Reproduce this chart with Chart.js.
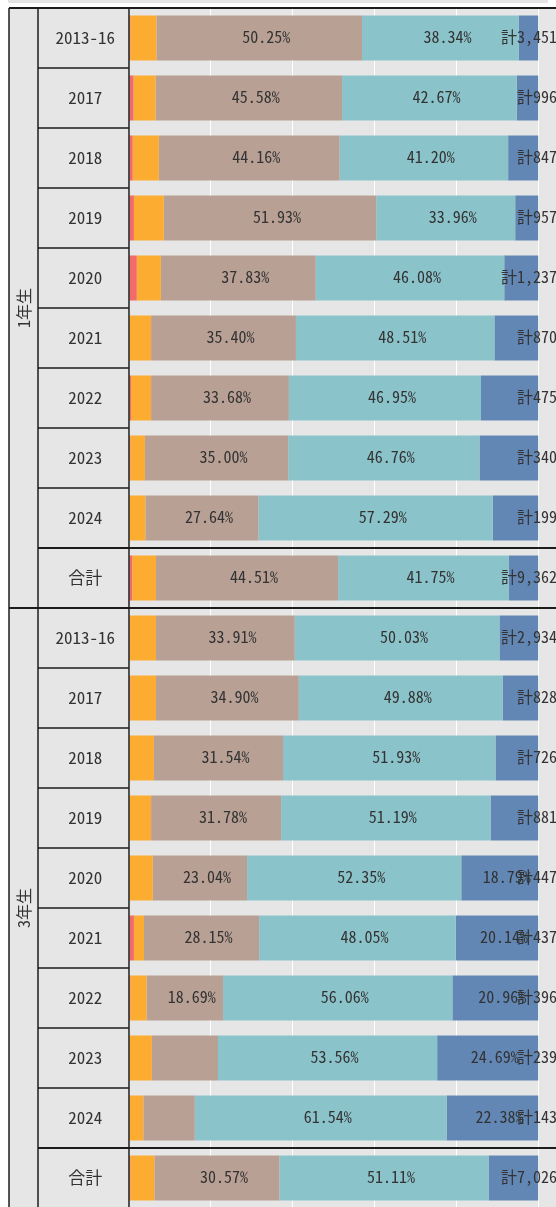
<!DOCTYPE html>
<html lang="ja">
<head>
<meta charset="utf-8">
<title>学年別 構成比</title>
<script src="https://cdn.jsdelivr.net/npm/chart.js@4.4.1/dist/chart.umd.min.js"></script>
<style>
  html, body { margin: 0; padding: 0; background: #ffffff; overflow: hidden; }
  #wrap { position: relative; width: 620px; height: 1210px; }
</style>
</head>
<body>
<div id="wrap"><canvas id="ratioChart" width="620" height="1210"></canvas></div>
<script>
// ==========================================
// 1. DATA
// ==========================================
const groups = ['1年生', '3年生'];
const years = ['2013-16', '2017', '2018', '2019', '2020', '2021', '2022', '2023', '2024', '合計'];
const rowLabels = [...years, ...years];

// share of each category per row, in percent (1年生 rows first, then 3年生)
const redShare = [0.3, 1.1, 0.9, 1.2, 1.9, 0, 0.5, 0.3, 0, 0.8,
                  0.2, 0.3, 0, 0, 0, 1.2, 0.3, 0, 0, 0.3];
const orangeShare = [6.4, 5.4, 6.4, 7.3, 5.9, 5.4, 4.9, 3.6, 4.0, 5.8,
                     6.4, 6.3, 6.1, 5.4, 5.82, 2.46, 3.99, 5.6, 3.5, 5.9];
const taupeShare = [50.25, 45.58, 44.16, 51.93, 37.83, 35.40, 33.68, 35.00, 27.64, 44.51,
                    33.91, 34.90, 31.54, 31.78, 23.04, 28.15, 18.69, 16.15, 12.58, 30.57];
const tealShare = [38.34, 42.67, 41.20, 33.96, 46.08, 48.51, 46.95, 46.76, 57.29, 41.75,
                   50.03, 49.88, 51.93, 51.19, 52.35, 48.05, 56.06, 53.56, 61.54, 51.11];
const blueShare = [4.71, 5.25, 7.34, 5.61, 8.29, 10.69, 13.97, 14.34, 11.07, 7.14,
                   9.46, 8.62, 10.43, 11.63, 18.79, 20.14, 20.96, 24.69, 22.38, 12.12];

// number of answers per row
const totals = [3451, 996, 847, 957, 1237, 870, 475, 340, 199, 9362,
                2934, 828, 726, 881, 447, 437, 396, 239, 143, 7026];

const xTicks = [0, 20, 40, 60, 80, 100, 120];

// ==========================================
// 2. LOOK & FEEL
// ==========================================
const COLORS = ['#f26b6b', '#fdac32', '#b8a095', '#8bc3cb', '#6287b4'];
const PANEL_BG = '#e6e6e6';
const LINE_COLOR = '#1c1c1c';
const TEXT_COLOR = '#333333';
const MONO = '"Noto Sans Mono CJK JP", "DejaVu Sans Mono", monospace';

const FRAME_LEFT = 9;       // outer left border of the table
const GROUP_COL_RIGHT = 38; // border between group column and year column
const LABEL_MIN = 17;       // segments smaller than this get no % text
const TOTAL_POS = 104.6;    // where the "計" texts end, in axis units

// ==========================================
// 3. TABLE FRAME + TEXT PLUGIN
// ==========================================
const tablePlugin = {
    id: 'tableFrame',
    beforeDraw(chart) {
        const { ctx, chartArea } = chart;
        ctx.save();
        ctx.fillStyle = '#e4e4e4';
        ctx.fillRect(8, 0, 540, 3);
        ctx.fillStyle = PANEL_BG;
        ctx.fillRect(FRAME_LEFT, chartArea.top, chart.width - FRAME_LEFT, chartArea.bottom - chartArea.top);
        ctx.restore();
    },
    afterDraw(chart) {
        const { ctx, chartArea, scales: { x, y } } = chart;
        const half = (y.getPixelForValue(1) - y.getPixelForValue(0)) / 2;
        const edge = i => y.getPixelForValue(i) - half; // top edge of row i

        const line = (x1, y1, x2, y2, w) => {
            ctx.lineWidth = w;
            ctx.beginPath();
            ctx.moveTo(x1, y1);
            ctx.lineTo(x2, y2);
            ctx.stroke();
        };

        ctx.save();
        ctx.strokeStyle = LINE_COLOR;

        // row borders inside the year column
        for (let i = 0; i <= rowLabels.length; i++) {
            line(GROUP_COL_RIGHT, edge(i), chartArea.left, edge(i), 1.5);
        }
        // line above each "合計" row runs through the plot too
        rowLabels.forEach((lbl, i) => {
            if (lbl === '合計') line(GROUP_COL_RIGHT, edge(i), chart.width, edge(i), 2);
        });
        // group borders, full width
        for (let g = 0; g <= groups.length; g++) {
            const yy = edge(g * years.length);
            line(FRAME_LEFT, yy, chart.width, yy, 2);
        }
        // vertical borders
        line(FRAME_LEFT, chartArea.top, FRAME_LEFT, chartArea.bottom, 1.5);
        line(GROUP_COL_RIGHT, chartArea.top, GROUP_COL_RIGHT, chartArea.bottom, 1.5);
        line(chartArea.left, chartArea.top, chartArea.left, chartArea.bottom, 1.5);

        // group names, rotated
        ctx.fillStyle = TEXT_COLOR;
        ctx.font = '16px ' + MONO;
        ctx.textAlign = 'center';
        ctx.textBaseline = 'middle';
        groups.forEach((name, g) => {
            const cy = (edge(g * years.length) + edge((g + 1) * years.length)) / 2;
            ctx.save();
            ctx.translate((FRAME_LEFT + GROUP_COL_RIGHT) / 2, cy);
            ctx.rotate(-Math.PI / 2);
            ctx.fillText(name, 0, 0);
            ctx.restore();
        });

        // percent texts on the wider segments
        ctx.font = '16px ' + MONO;
        [2, 3, 4].forEach(ds => {
            const meta = chart.getDatasetMeta(ds);
            const values = chart.data.datasets[ds].data;
            meta.data.forEach((bar, i) => {
                if (values[i] < LABEL_MIN) return;
                ctx.fillText(values[i].toFixed(2) + '%', (bar.x + bar.base) / 2 + 7, bar.y - 1);
            });
        });

        // totals at the right end
        ctx.textAlign = 'right';
        const tx = x.getPixelForValue(TOTAL_POS);
        chart.getDatasetMeta(0).data.forEach((bar, i) => {
            ctx.fillText('計' + totals[i].toLocaleString('en-US'), tx, bar.y - 1);
        });

        ctx.restore();
    }
};

// ==========================================
// 4. THE CHART
// ==========================================
const shares = [redShare, orangeShare, taupeShare, tealShare, blueShare];

const ctx = document.getElementById('ratioChart').getContext('2d');
const ratioChart = new Chart(ctx, {
    type: 'bar',
    data: {
        labels: rowLabels,
        datasets: shares.map((values, k) => ({
            label: 'cat' + (k + 1),
            data: values,
            backgroundColor: COLORS[k],
            borderWidth: 0,
            barPercentage: 0.75,
            categoryPercentage: 1
        }))
    },
    options: {
        indexAxis: 'y',
        responsive: false,
        animation: false,
        layout: { padding: { top: 8, bottom: 2, left: 0, right: 0 } },
        plugins: {
            legend: { display: false },
            tooltip: { enabled: false }
        },
        scales: {
            x: {
                stacked: true,
                min: 0,
                max: 120,
                afterBuildTicks: axis => { axis.ticks = xTicks.map(v => ({ value: v })); },
                ticks: { display: false },
                grid: { color: '#ffffff', lineWidth: 1, drawTicks: false },
                border: { display: false }
            },
            y: {
                stacked: true,
                afterFit: axis => {
                    axis.width = 129;
                    // rows fill the whole height: no room kept for half labels
                    axis.paddingTop = 0;
                    axis.paddingBottom = 0;
                },
                grid: { display: false, drawTicks: false },
                border: { display: false },
                ticks: {
                    autoSkip: false,
                    crossAlign: 'center',
                    padding: 14,
                    color: TEXT_COLOR,
                    font: { family: MONO, size: 17 }
                }
            }
        }
    },
    plugins: [tablePlugin]
});
</script>
</body>
</html>
